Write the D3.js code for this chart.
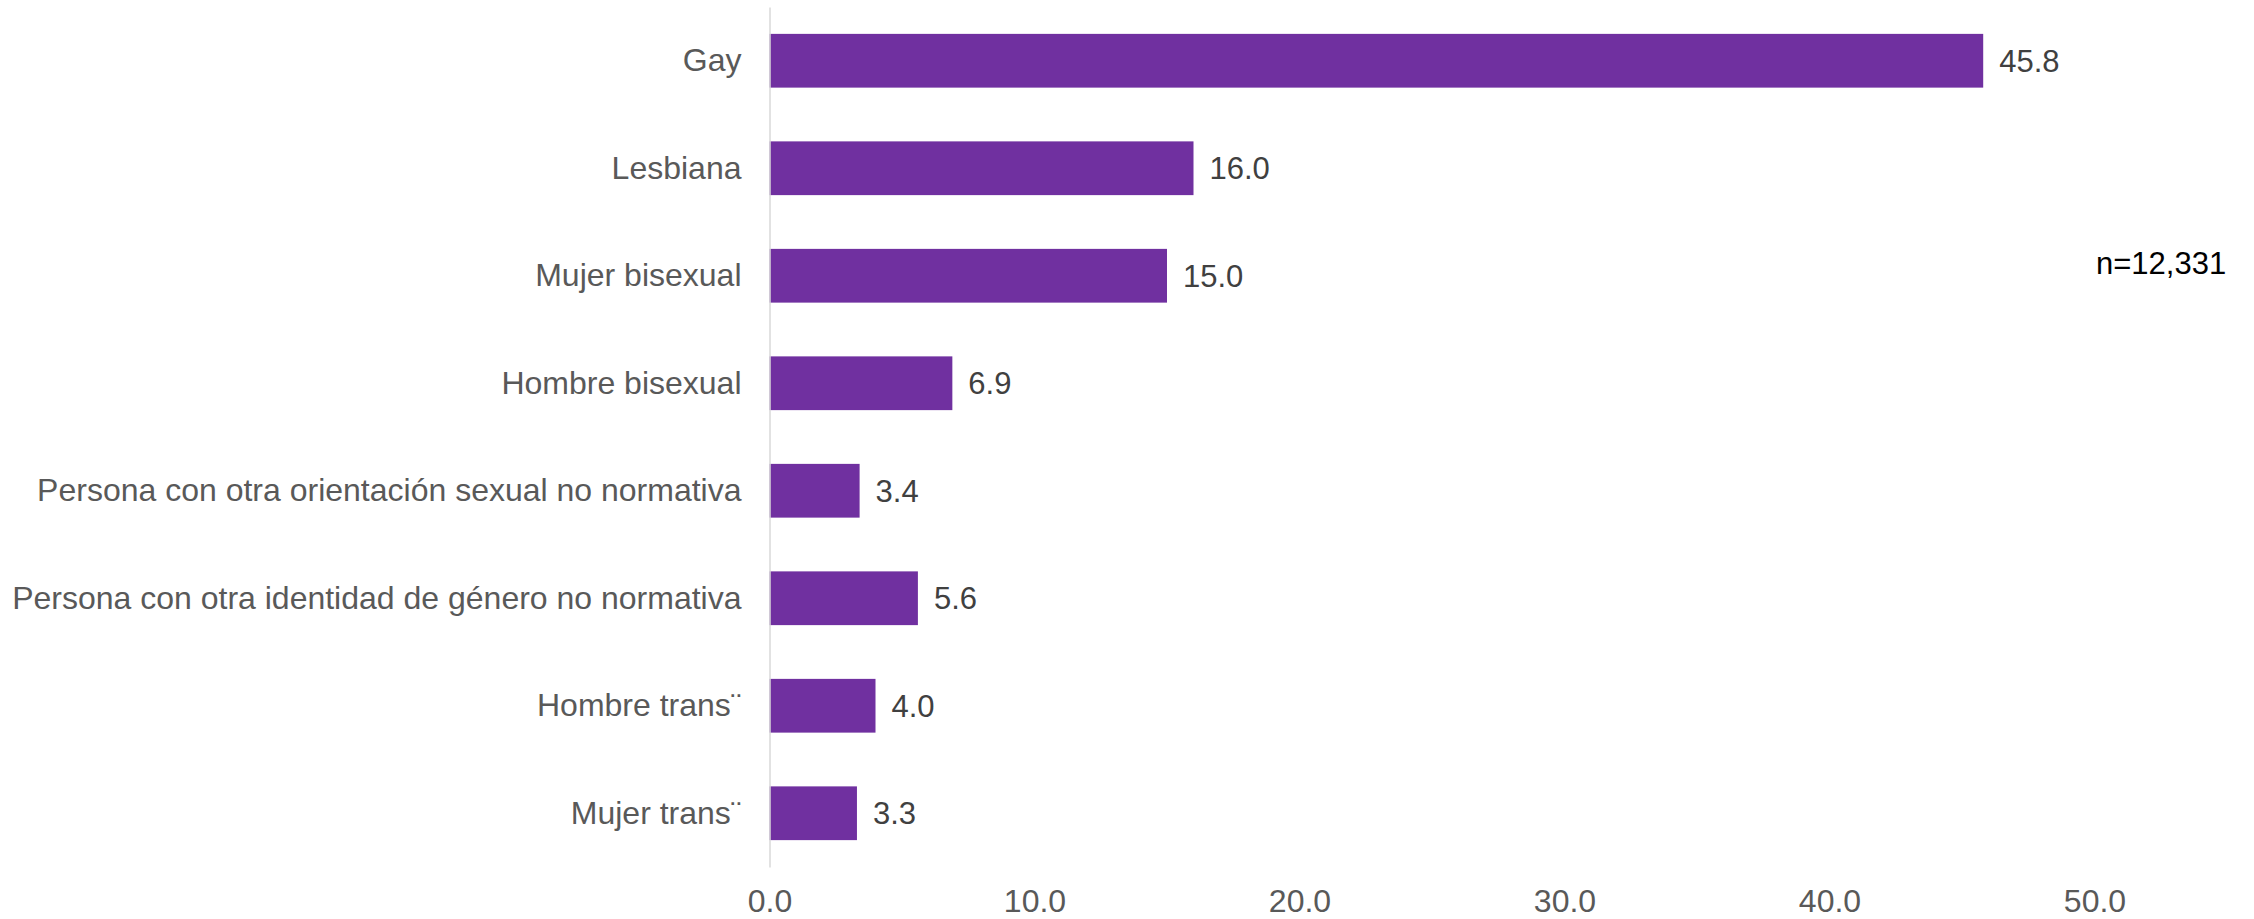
<!DOCTYPE html>
<html>
<head>
<meta charset="utf-8">
<script src="https://cdn.jsdelivr.net/npm/d3@7"></script>
<style>
  html, body { margin: 0; padding: 0; background: #ffffff; }
  svg { display: block; font-family: "Liberation Sans", Arial, sans-serif; }
</style>
</head>
<body>
<svg id="chart" width="2254" height="919"></svg>
<script>
const categories = [
  "Gay",
  "Lesbiana",
  "Mujer bisexual",
  "Hombre bisexual",
  "Persona con otra orientación sexual no normativa",
  "Persona con otra identidad de género no normativa",
  "Hombre trans¨",
  "Mujer trans¨"
];
const values = [45.8, 16.0, 15.0, 6.9, 3.4, 5.6, 4.0, 3.3];
const tickValues = [0, 10, 20, 30, 40, 50];
const note = "n=12,331";

const svg = d3.select("#chart");

const x = d3.scaleLinear().domain([0, 50]).range([769.5, 2094.5]);
const y = d3.scaleBand().domain(categories).range([7, 867]).paddingInner(0.5).paddingOuter(0.25);

// Bars
svg.append("g").selectAll("rect")
  .data(values)
  .join("rect")
  .attr("x", x(0))
  .attr("y", (d, i) => y(categories[i]))
  .attr("width", d => x(d) - x(0))
  .attr("height", y.bandwidth())
  .attr("fill", "#7030a0");

// Left axis (line + category labels)
const gy = svg.append("g")
  .attr("transform", `translate(${x(0)},0)`)
  .call(d3.axisLeft(y).tickSize(0).tickSizeOuter(0).tickPadding(28));
gy.select(".domain").attr("stroke", "#d9d9d9").attr("stroke-width", 1.5);
gy.selectAll("text")
  .attr("font-size", 32)
  .attr("font-family", "\"Liberation Sans\", Arial, sans-serif")
  .attr("fill", "#595959");

// Bottom axis (tick labels only)
const gx = svg.append("g")
  .attr("transform", `translate(0,867)`)
  .call(d3.axisBottom(x).tickValues(tickValues).tickFormat(d3.format(".1f")).tickSize(0));
gx.select(".domain").remove();
gx.selectAll("text")
  .attr("y", 45)
  .attr("dy", 0)
  .attr("font-size", 32)
  .attr("font-family", "\"Liberation Sans\", Arial, sans-serif")
  .attr("fill", "#595959");

// Value labels
svg.append("g").selectAll("text")
  .data(values)
  .join("text")
  .attr("x", d => x(d) + 16)
  .attr("y", (d, i) => y(categories[i]) + y.bandwidth() / 2)
  .attr("dy", "0.35em")
  .attr("font-size", 31)
  .attr("fill", "#404040")
  .text(d => d3.format(".1f")(d));

// Sample size note
svg.append("text")
  .attr("x", 2096)
  .attr("y", 274)
  .attr("font-size", 31)
  .attr("fill", "#000000")
  .text(note);
</script>
</body>
</html>
